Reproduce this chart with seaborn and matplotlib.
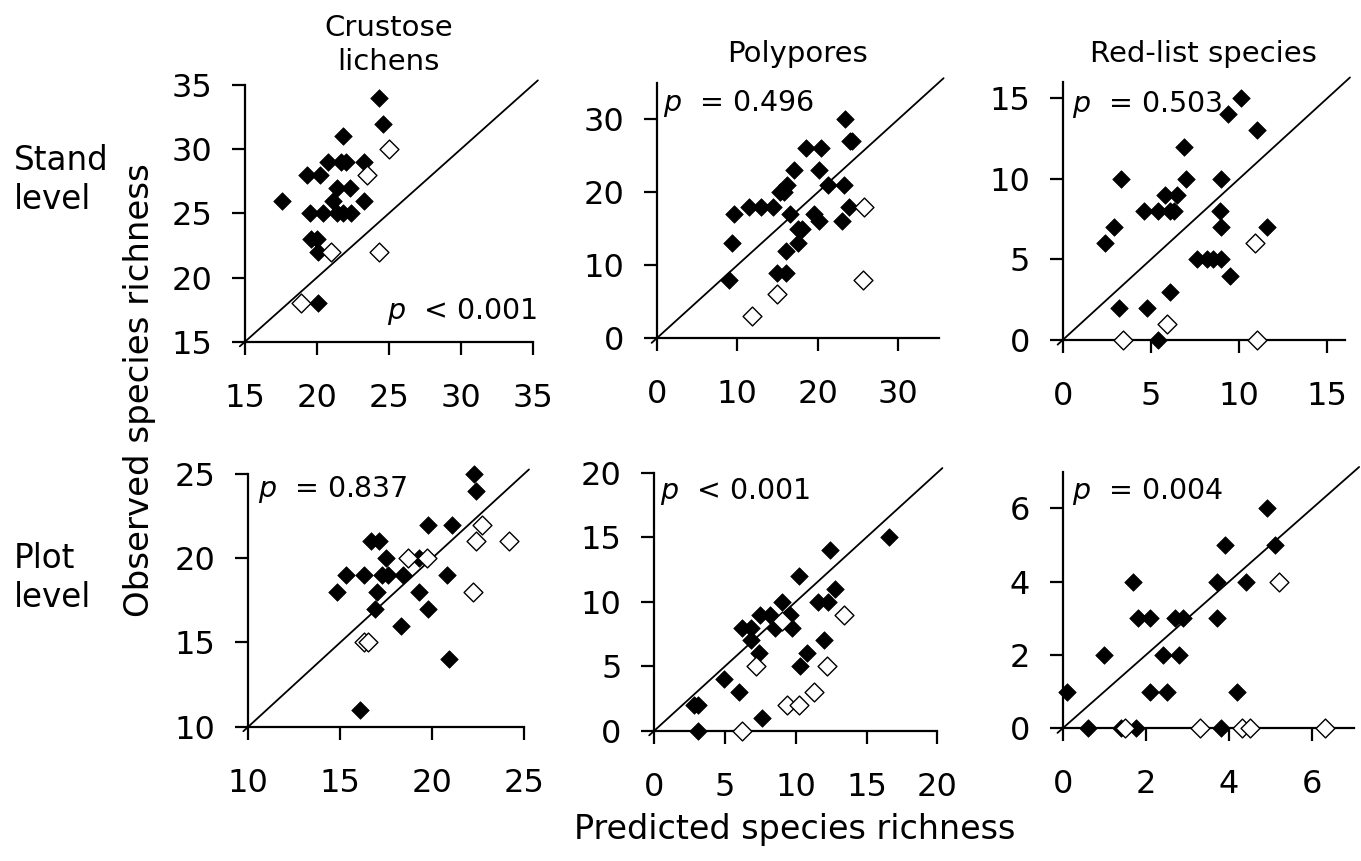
import matplotlib
matplotlib.use("Agg")
import matplotlib.pyplot as plt
import seaborn as sns
import pandas as pd

sns.set_theme(style="ticks")
plt.rcParams['font.family'] = ['DejaVu Sans']
plt.rcParams['mathtext.fontset'] = 'dejavusans'

# ---------------- data (predicted, observed) ----------------
# Crustose lichens, stand level
lich_stand_pred_f = [24.3, 24.6, 21.8, 20.8, 21.7, 22.0, 23.3, 19.3, 20.2, 17.6, 21.4, 22.3,
                     21.1, 23.3, 19.5, 20.4, 21.4, 21.8, 22.4, 19.6, 20.0, 20.1, 20.1]
lich_stand_obs_f = [34, 32, 31, 29, 29, 29, 29, 28, 28, 26, 27, 27,
                    26, 26, 25, 25, 25, 25, 25, 23, 23, 22, 18]
lich_stand_pred_o = [25.0, 23.5, 21.0, 24.3, 18.9]
lich_stand_obs_o = [30, 28, 22, 22, 18]

# Polypores, stand level
poly_stand_pred_f = [23.4, 24.0, 24.3, 18.5, 20.4, 17.1, 20.1, 21.3, 23.3, 15.3, 15.8, 16.2,
                     9.6, 11.5, 13.0, 14.5, 16.6, 19.5, 20.1, 17.6, 18.0, 23.0, 23.9, 9.3,
                     17.5, 16.1, 15.0, 16.1, 9.0]
poly_stand_obs_f = [30, 27, 27, 26, 26, 23, 23, 21, 21, 20, 20, 21,
                    17, 18, 18, 18, 17, 17, 16, 15, 15, 16, 18, 13,
                    13, 12, 9, 9, 8]
poly_stand_pred_o = [25.7, 25.6, 14.9, 11.8]
poly_stand_obs_o = [18, 8, 6, 3]

# Red-list species, stand level
red_stand_pred_f = [10.1, 9.4, 11.0, 6.9, 3.3, 7.0, 9.0, 5.8, 6.5, 4.6, 5.4, 6.1, 6.3, 8.9,
                    2.9, 9.0, 11.6, 2.4, 7.6, 8.2, 8.5, 9.0, 9.5, 6.1, 3.2, 4.8, 5.4]
red_stand_obs_f = [15, 14, 13, 12, 10, 10, 10, 9, 9, 8, 8, 8, 8, 8,
                   7, 7, 7, 6, 5, 5, 5, 5, 4, 3, 2, 2, 0]
red_stand_pred_o = [10.9, 5.9, 3.4, 11.0]
red_stand_obs_o = [6, 1, 0, 0]

# Crustose lichens, plot level
lich_plot_pred_f = [22.3, 22.4, 19.8, 21.1, 16.7, 17.1, 17.5, 19.3, 15.3, 16.3, 17.3, 17.6,
                    18.4, 20.8, 14.8, 17.0, 19.3, 16.9, 19.8, 18.3, 20.9, 16.1, 16.5]
lich_plot_obs_f = [25, 24, 22, 22, 21, 21, 20, 20, 19, 19, 19, 19,
                   19, 19, 18, 18, 18, 17, 17, 16, 14, 11, 15]
lich_plot_pred_o = [22.7, 22.4, 24.2, 18.7, 19.7, 22.2, 16.3, 16.5]
lich_plot_obs_o = [22, 21, 21, 20, 20, 18, 15, 15]

# Polypores, plot level
poly_plot_pred_f = [16.6, 12.4, 10.2, 12.8, 9.0, 11.6, 12.3, 7.5, 8.2, 9.6, 6.2, 6.8, 8.5,
                    9.7, 6.8, 12.0, 7.4, 10.8, 10.3, 4.9, 6.0, 2.8, 3.1, 7.6, 3.1]
poly_plot_obs_f = [15, 14, 12, 11, 10, 10, 10, 9, 9, 9, 8, 8, 8,
                   8, 7, 7, 6, 6, 5, 4, 3, 2, 2, 1, 0]
poly_plot_pred_o = [13.4, 9.0, 7.2, 12.2, 11.3, 9.4, 10.2, 6.2]
poly_plot_obs_o = [9, 8.5, 5, 5, 3, 2, 2, 0]

# Red-list species, plot level
red_plot_pred_f = [4.9, 3.9, 5.1, 1.7, 3.7, 4.4, 1.8, 2.1, 2.7, 2.9, 3.7, 1.0, 2.4, 2.8,
                   0.1, 2.1, 2.5, 4.2, 0.6, 1.4, 1.76, 3.8]
red_plot_obs_f = [6, 5, 5, 4, 4, 4, 3, 3, 3, 3, 3, 2, 2, 2,
                  1, 1, 1, 1, 0, 0, 0, 0]
red_plot_pred_o = [5.2, 1.5, 3.3, 4.3, 4.5, 6.3]
red_plot_obs_o = [4, 0, 0, 0, 0, 0]

col_titles = ["Crustose\nlichens", "Polypores", "Red-list species"]
row_titles = ["Stand\nlevel", "Plot\nlevel"]
p_labels = ["$p$  < 0.001", "$p$  = 0.496", "$p$  = 0.503",
            "$p$  = 0.837", "$p$  < 0.001", "$p$  = 0.004"]
limits = [(15, 35), (0, 35), (0, 16), (10, 25), (0, 20), (0, 7)]
ticks = [[15, 20, 25, 30, 35], [0, 10, 20, 30], [0, 5, 10, 15],
         [10, 15, 20, 25], [0, 5, 10, 15, 20], [0, 2, 4, 6]]

panels = [
    (lich_stand_pred_f, lich_stand_obs_f, lich_stand_pred_o, lich_stand_obs_o),
    (poly_stand_pred_f, poly_stand_obs_f, poly_stand_pred_o, poly_stand_obs_o),
    (red_stand_pred_f, red_stand_obs_f, red_stand_pred_o, red_stand_obs_o),
    (lich_plot_pred_f, lich_plot_obs_f, lich_plot_pred_o, lich_plot_obs_o),
    (poly_plot_pred_f, poly_plot_obs_f, poly_plot_pred_o, poly_plot_obs_o),
    (red_plot_pred_f, red_plot_obs_f, red_plot_pred_o, red_plot_obs_o),
]

# ---------------- layout ----------------
W, H = 1361, 861
fig = plt.figure(figsize=(W / 100, H / 100), dpi=100)
fig.patch.set_facecolor("white")

# axes boxes in pixels: left, top, right, bottom
boxes = [(245, 85, 532.7, 341.7), (656.7, 82.8, 938.5, 338.3), (1062.7, 82.1, 1344.9, 340),
         (248.3, 474, 524, 726.7), (654.3, 472.7, 937.3, 730.7), (1062.7, 471.6, 1353.9, 728.3)]
p_pos = [(1.015, 0.09, 'right'), (0.022, 0.89, 'left'), (0.032, 0.885, 'left'),
         (0.035, 0.91, 'left'), (0.02, 0.897, 'left'), (0.031, 0.892, 'left')]

for i, (pf, of, po, oo) in enumerate(panels):
    l, t, r, b = boxes[i]
    ax = fig.add_axes([l / W, 1 - b / H, (r - l) / W, (b - t) / H])
    lo, hi = limits[i]
    ax.set_xlim(lo, hi)
    ax.set_ylim(lo, hi)
    ax.set_xticks(ticks[i])
    ax.set_yticks(ticks[i])
    d = 0.018 * (hi - lo)
    ax.plot([lo - d, hi + d], [lo - d, hi + d], color="black", lw=1.3,
            clip_on=False, zorder=2)
    df_f = pd.DataFrame({"pred": pf, "obs": of})
    df_o = pd.DataFrame({"pred": po, "obs": oo})
    sns.scatterplot(data=df_f, x="pred", y="obs", ax=ax, marker="D", s=80,
                    color="black", edgecolor="black", linewidth=0.5,
                    zorder=4, clip_on=False, legend=False)
    sns.scatterplot(data=df_o, x="pred", y="obs", ax=ax, marker="D", s=92,
                    color="white", edgecolor="black", linewidth=1.0,
                    zorder=5, clip_on=False, legend=False)
    ax.set_xlabel("")
    ax.set_ylabel("")
    for side in ("top", "right"):
        ax.spines[side].set_visible(False)
    for side in ("left", "bottom"):
        ax.spines[side].set_linewidth(1.6)
        ax.spines[side].set_color("black")
    ax.set_facecolor("none")
    ax.tick_params(axis="both", direction="out", length=9.5, width=1.6,
                   colors="black", labelsize=23)
    ax.tick_params(axis="x", pad=20)
    ax.tick_params(axis="y", pad=14)
    px, py, ha = p_pos[i]
    ax.text(px, py, p_labels[i], transform=ax.transAxes, ha=ha, va="baseline",
            fontsize=20.5, color="black", zorder=6)

# column titles
col_centers = [(245 + 532.7) / 2, (656.7 + 938.5) / 2, (1062.7 + 1344.9) / 2]
col_y = [45, 54, 54]
for cx, cy, txt in zip(col_centers, col_y, col_titles):
    fig.text(cx / W, 1 - cy / H, txt, ha="center", va="center", fontsize=21,
             linespacing=1.3, color="black")

# row titles
for cy, txt in zip([180, 578], row_titles):
    fig.text(14 / W, 1 - cy / H, txt, ha="left", va="center", fontsize=23.5,
             linespacing=1.2, color="black")

fig.text(140 / W, 1 - 390 / H, "Observed species richness", rotation=90,
         ha="center", va="center", fontsize=24.5, color="black")
fig.text(795 / W, 1 - 830 / H, "Predicted species richness",
         ha="center", va="center", fontsize=24, color="black")

fig.savefig("out.png", dpi=100, facecolor="white")
